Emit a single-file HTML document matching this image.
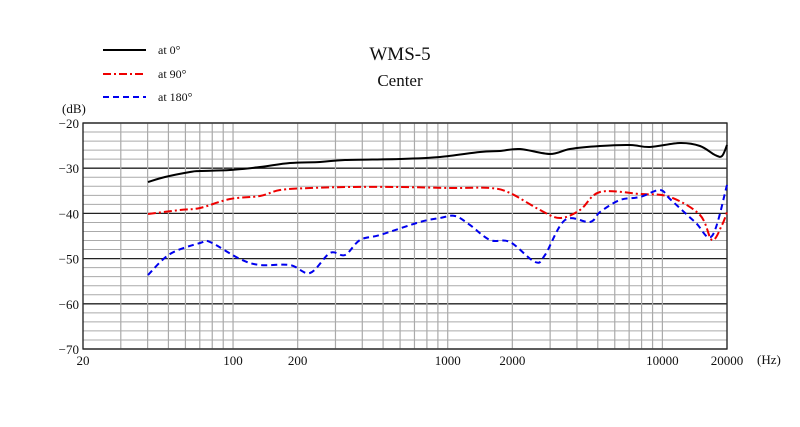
<!DOCTYPE html><html><head><style>body{margin:0;background:#fff}svg{display:block}text{font-family:"Liberation Serif",serif;fill:#111}</style></head><body>
<svg width="800" height="427" viewBox="0 0 800 427">
<g id="g"></g>
<text x="400" y="60" font-size="19" text-anchor="middle">WMS-5</text>
<text x="400" y="86" font-size="17" text-anchor="middle">Center</text>
<line x1="103" y1="50" x2="146" y2="50" stroke="#000" stroke-width="2"/>
<text x="158" y="54" font-size="12">at 0°</text>
<line x1="103" y1="74" x2="146" y2="74" stroke="#e00" stroke-width="2" stroke-dasharray="8,3,2,3"/>
<text x="158" y="78" font-size="12">at 90°</text>
<line x1="103" y1="97" x2="146" y2="97" stroke="#00e" stroke-width="2" stroke-dasharray="6,4"/>
<text x="158" y="101" font-size="12">at 180°</text>
<text x="62" y="113" font-size="13">(dB)</text>
<text x="757" y="364" font-size="13">(Hz)</text>
<path id="c0" fill="none" stroke="#000" stroke-width="2"/>
<path id="c1" fill="none" stroke="#e00" stroke-width="2" stroke-dasharray="8,3,2,3"/>
<path id="c2" fill="none" stroke="#00e" stroke-width="2" stroke-dasharray="6,4"/>
</svg>
<script>
var g=document.getElementById('g'),s='',L=83,R=727,T=123,B=349;
function X(f){return L+214.67*Math.log10(f/20);}
for(var d=-20;d>=-70;d-=2){var y=T+(-20-d)*4.52;var m=d%10==0;s+='<line x1="'+L+'" x2="'+R+'" y1="'+y+'" y2="'+y+'" stroke="'+(m?'#222':'#aaa')+'" stroke-width="'+(m?1.3:1)+'"/>';if(m)s+='<text x="'+(L-4)+'" y="'+(y+5)+'" font-size="13" text-anchor="end">'+(d<0?'−'+(-d):d)+'</text>';}
var fs=[20,30,40,50,60,70,80,90,100,200,300,400,500,600,700,800,900,1000,2000,3000,4000,5000,6000,7000,8000,9000,10000,20000];
fs.forEach(function(f){var x=X(f);s+='<line x1="'+x+'" x2="'+x+'" y1="'+T+'" y2="'+B+'" stroke="#aaa" stroke-width="1.2"/>';});
[20,100,200,1000,2000,10000,20000].forEach(function(f){s+='<text x="'+X(f)+'" y="365" font-size="13" text-anchor="middle">'+f+'</text>';});
s+='<rect x="'+L+'" y="'+T+'" width="'+(R-L)+'" height="'+(B-T)+'" fill="none" stroke="#222" stroke-width="1.3"/>';
g.innerHTML=s;
function sm(str){var p=str.trim().split(/\s+/).map(function(a){return a.split(',').map(Number)});var d='M'+p[0];for(var i=0;i<p.length-1;i++){var p0=p[i-1]||p[i],p1=p[i],p2=p[i+1],p3=p[i+2]||p2;d+=' C'+(p1[0]+(p2[0]-p0[0])/6)+','+(p1[1]+(p2[1]-p0[1])/6)+' '+(p2[0]-(p3[0]-p1[0])/6)+','+(p2[1]-(p3[1]-p1[1])/6)+' '+p2;}return d;}
document.getElementById('c0').setAttribute('d',sm("148,182 165,177 190,172 200,171 230,170 260,167 290,163 320,162 345,160 400,159 440,157 480,152 500,151 520,149 550,154 570,149 600,146 630,145 650,147 680,143 700,146 715,155 722,156 727,145"));
document.getElementById('c1').setAttribute('d',sm("148,214 180,210 200,208 230,199 260,196 280,190 310,188 350,187 400,187 450,188 490,188 510,193 540,210 560,218 580,210 600,192 640,194 670,197 700,215 712,240 722,225 727,212"));
document.getElementById('c2').setAttribute('d',sm("148,275 170,254 200,243 210,242 240,259 260,265 290,265 310,273 330,253 345,255 360,240 380,235 420,222 440,218 455,216 470,225 490,240 510,242 535,262 545,255 565,220 590,222 600,212 620,200 640,197 660,190 670,199 695,222 712,236 727,185"));
</script>
</body></html>
